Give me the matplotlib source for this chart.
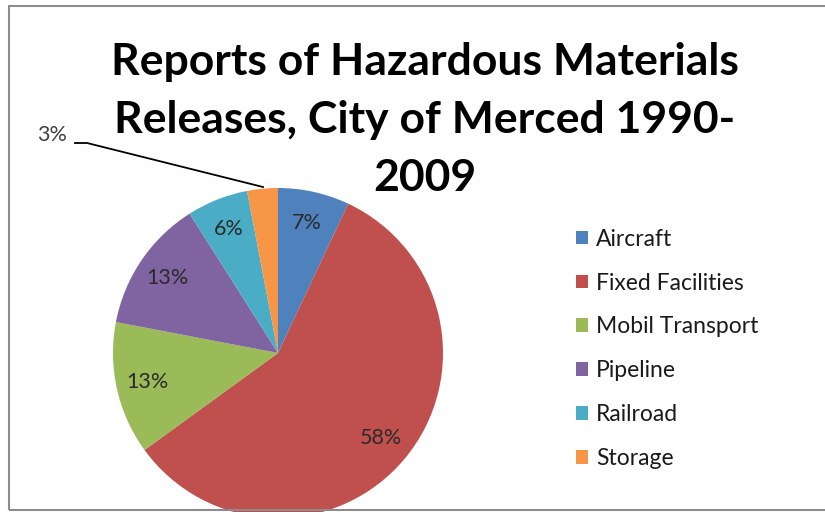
import matplotlib
matplotlib.use("Agg")
import matplotlib.pyplot as plt
from matplotlib.patches import Rectangle

# data
categories = ["Aircraft", "Fixed Facilities", "Mobil Transport", "Pipeline", "Railroad", "Storage"]
shares = [7, 58, 13, 13, 6, 3]
colors = ["#4F81BD", "#C0504D", "#9BBB59", "#8064A2", "#4BACC6", "#F79646"]
title = "Reports of Hazardous Materials\nReleases, City of Merced 1990-\n2009"

plt.rcParams['font.family'] = ['Lato', 'DejaVu Sans']

W, H = 825, 512
fig = plt.figure(figsize=(W / 100, H / 100), dpi=100)
fig.patch.set_facecolor("white")

# chart area border
fig.patches.append(Rectangle((9 / W, 2 / H), 1.0, (H - 8) / H, transform=fig.transFigure,
                             fill=False, edgecolor="#8c8c8c", linewidth=1.5))

ax = fig.add_axes([0, 0, 1, 1])
wedges, texts, autotexts = ax.pie(shares, colors=colors, startangle=90, counterclock=False,
                                  center=(278, H - 353), radius=165,
                                  autopct="%d%%", pctdistance=0.81,
                                  textprops={"fontsize": 15.5, "color": "#2a2a2a"})
ax.set_xlim(0, W)
ax.set_ylim(0, H)
ax.set_aspect("equal", adjustable="box")
ax.axis("off")

# storage slice label sits outside with a leader line
st = autotexts[-1]
st.set_position((37, H - 135))
st.set_ha("left")
st.set_color("#404040")
ax.plot([75, 87, 263], [H - 143, H - 143, H - 187], color="black", lw=1.3)

fig.text(0.515, 1 - 42 / H, title, ha="center", va="top", fontsize=32, fontweight="bold",
         linespacing=1.55, color="black")

handles = [Rectangle((0, 0), 1, 1, facecolor=c) for c in colors]
fig.legend(handles, categories, loc="upper left", bbox_to_anchor=(555 / W, 1 - 208 / H),
           frameon=False, fontsize=16.5, handlelength=0.55, handleheight=0.55,
           handletextpad=0.35, labelspacing=1.0, labelcolor="#1a1a1a")

fig.savefig("out.png", dpi=100)
